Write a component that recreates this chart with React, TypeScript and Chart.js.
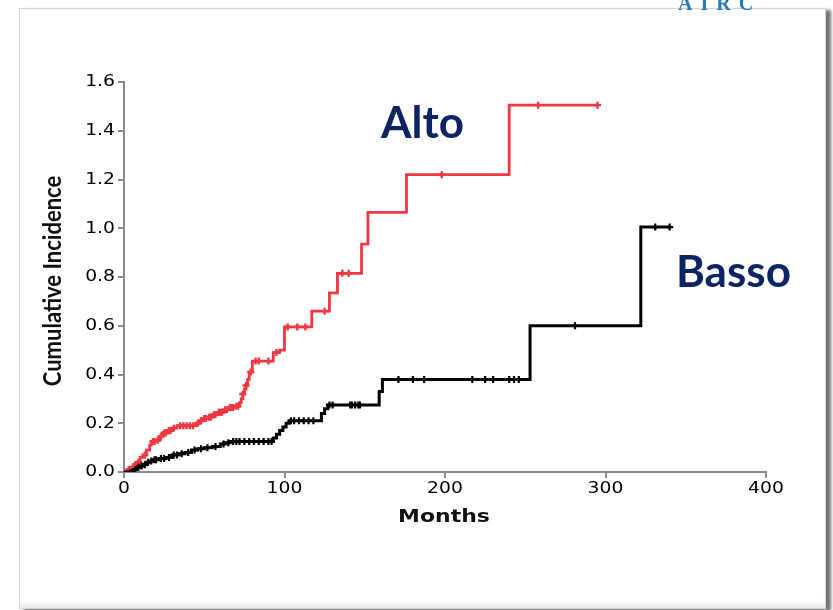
import React, { useEffect, useRef } from "react";
import { Chart, registerables } from "chart.js";

Chart.register(...registerables);

// ---- Data (months, cumulative incidence) ----
const xTicks = [0, 100, 200, 300, 400];
const yTicks = [0, 0.2, 0.4, 0.6, 0.8, 1.0, 1.2, 1.4, 1.6];

// "Alto" group (red)
const altoTimes = [0, 2, 4, 6, 8, 10, 12, 14, 16, 17, 20, 22, 24, 27, 30, 33, 45, 47, 49, 52, 55, 58, 62, 65, 69, 72, 73, 74, 75, 76, 77, 78, 80, 93, 97, 100, 117, 128, 133, 148, 152, 176, 240, 295];
const altoValues = [0, 0.01, 0.02, 0.03, 0.04, 0.06, 0.07, 0.09, 0.11, 0.125, 0.13, 0.145, 0.16, 0.17, 0.18, 0.19, 0.2, 0.21, 0.22, 0.225, 0.235, 0.245, 0.255, 0.265, 0.27, 0.285, 0.3, 0.32, 0.34, 0.355, 0.38, 0.41, 0.455, 0.49, 0.5, 0.595, 0.66, 0.735, 0.815, 0.935, 1.065, 1.22, 1.505, 1.505];
const altoCensored = [3, 7, 9, 13, 18, 19, 21, 23, 25, 26, 28, 29, 31, 35, 37, 39, 41, 43, 46, 48, 50, 51, 53, 54, 56, 57, 59, 60, 61, 63, 64, 66, 67, 68, 70, 71, 74, 76, 79, 82, 84, 90, 95, 102, 108, 113, 125, 136, 140, 198, 258, 295];

// "Basso" group (black)
const bassoTimes = [0, 4, 6, 8, 10, 12, 14, 16, 18, 22, 26, 30, 34, 38, 42, 46, 50, 55, 60, 63, 66, 93, 95, 97, 99, 101, 103, 123, 125, 127, 159, 161, 253, 322, 340];
const bassoValues = [0, 0.005, 0.01, 0.02, 0.025, 0.03, 0.04, 0.045, 0.05, 0.055, 0.06, 0.07, 0.075, 0.08, 0.09, 0.095, 0.1, 0.105, 0.115, 0.12, 0.125, 0.14, 0.155, 0.17, 0.185, 0.2, 0.21, 0.24, 0.26, 0.275, 0.33, 0.38, 0.6, 1.005, 1.005];
const bassoCensored = [7, 9, 11, 13, 15, 17, 19, 20, 23, 25, 28, 31, 33, 36, 40, 44, 48, 52, 57, 62, 65, 68, 70, 72, 75, 78, 81, 84, 87, 90, 92, 104, 106, 109, 112, 115, 118, 128, 130, 141, 142, 144, 146, 147, 171, 180, 187, 217, 225, 230, 240, 243, 246, 281, 331, 340];

const RED = "#f03842";
const BLACK = "#000000";
const NAVY = "#0c2461";
const STRETCH = 1.25;

function stepPoints(times: number[], values: number[]) {
  return times.map((t, i) => ({ x: t, y: values[i] }));
}
function valueAt(times: number[], values: number[], t: number) {
  let v = values[0];
  for (let i = 0; i < times.length; i++) {
    if (times[i] <= t) v = values[i];
  }
  return v;
}
function censorPoints(cens: number[], times: number[], values: number[]) {
  return cens.map((t) => ({ x: t, y: valueAt(times, values, t) }));
}

function stretchedText(ctx: any, text: string, x: number, y: number, sx: number, align: string) {
  ctx.save();
  ctx.translate(x, y);
  ctx.scale(sx, 1);
  ctx.textAlign = align;
  ctx.fillText(text, 0, 0);
  ctx.restore();
}

const textPlugin = {
  id: "annotTexts",
  afterDraw(chart: any) {
    const ctx = chart.ctx;
    const xs = chart.scales.x;
    const ys = chart.scales.y;

    // tick labels (stretched, like the original bitmap)
    ctx.save();
    ctx.fillStyle = "#000";
    ctx.font = "15px 'DejaVu Sans'";
    ctx.textBaseline = "middle";
    yTicks.forEach((v) => {
      stretchedText(ctx, v.toFixed(1), ys.left + 115, ys.getPixelForValue(v) + 0.5, STRETCH, "right");
    });
    xTicks.forEach((v) => {
      stretchedText(ctx, String(v), xs.getPixelForValue(v), 489, STRETCH, "center");
    });
    // x title
    ctx.fillStyle = "#111";
    ctx.font = "bold 18px 'DejaVu Sans'";
    stretchedText(ctx, "Months", 444, 517, 1.22, "center");
    ctx.restore();

    ctx.save();
    ctx.textBaseline = "alphabetic";
    ctx.textAlign = "left";
    ctx.fillStyle = NAVY;
    ctx.font = "bold 44px Lato";
    ctx.fillText("Alto", 381, 138);
    ctx.fillText("Basso", 676, 287);

    // y-axis title
    ctx.fillStyle = "#111";
    ctx.font = "bold 22px Lato";
    ctx.translate(53, 281);
    ctx.rotate(-Math.PI / 2);
    ctx.scale(1, 1.1);
    ctx.textAlign = "center";
    ctx.textBaseline = "middle";
    ctx.fillText("Cumulative Incidence", 0, 0);
    ctx.restore();

    ctx.save();
    ctx.fillStyle = "#2b7bb2";
    ctx.font = "bold 20px 'Liberation Serif'";
    (ctx as any).letterSpacing = "8px";
    ctx.textBaseline = "alphabetic";
    ctx.textAlign = "left";
    ctx.fillText("AIRC", 678, 10);
    ctx.restore();
  },
};

export default function App() {
  const ref = useRef<HTMLCanvasElement | null>(null);

  useEffect(() => {
    if (!ref.current) return;
    const chart = new Chart(ref.current, {
      type: "line",
      data: {
        datasets: [
          {
            label: "Basso",
            data: stepPoints(bassoTimes, bassoValues),
            borderColor: BLACK,
            borderWidth: 3,
            stepped: "before",
            pointRadius: 0,
            fill: false,
          },
          {
            label: "Basso censored",
            type: "scatter",
            data: censorPoints(bassoCensored, bassoTimes, bassoValues),
            borderColor: BLACK,
            backgroundColor: BLACK,
            pointStyle: "cross",
            pointRadius: 3.5,
            borderWidth: 2.2,
            showLine: false,
          } as any,
          {
            label: "Alto",
            data: stepPoints(altoTimes, altoValues),
            borderColor: RED,
            borderWidth: 2.8,
            stepped: "before",
            pointRadius: 0,
            fill: false,
          },
          {
            label: "Alto censored",
            type: "scatter",
            data: censorPoints(altoCensored, altoTimes, altoValues),
            borderColor: RED,
            backgroundColor: RED,
            pointStyle: "cross",
            pointRadius: 3.5,
            borderWidth: 2.4,
            showLine: false,
          } as any,
        ],
      },
      options: {
        responsive: false,
        animation: false,
        events: [],
        layout: { padding: { left: 0, top: 82, right: 67, bottom: 0 } },
        plugins: {
          legend: { display: false },
          tooltip: { enabled: false },
        },
        scales: {
          x: {
            type: "linear",
            min: xTicks[0],
            max: xTicks[xTicks.length - 1],
            afterBuildTicks: (scale: any) => {
              scale.ticks = xTicks.map((v) => ({ value: v }));
            },
            afterFit: (scale: any) => {
              scale.height = 138;
            },
            ticks: { display: false },
            grid: {
              drawOnChartArea: false,
              drawTicks: true,
              tickLength: 6,
              color: "#8a8a8a",
              lineWidth: 2,
            },
            border: { display: true, color: "#8a8a8a", width: 2 },
            title: { display: false },
          },
          y: {
            type: "linear",
            min: yTicks[0],
            max: yTicks[yTicks.length - 1],
            afterBuildTicks: (scale: any) => {
              scale.ticks = yTicks.map((v) => ({ value: v }));
            },
            afterFit: (scale: any) => {
              scale.width = 124;
            },
            ticks: { display: false },
            grid: {
              drawOnChartArea: false,
              drawTicks: true,
              tickLength: 6,
              color: "#8a8a8a",
              lineWidth: 2,
            },
            border: { display: true, color: "#8a8a8a", width: 2 },
            title: { display: false },
          },
        },
      },
      plugins: [textPlugin],
    } as any);
    return () => chart.destroy();
  }, []);

  return (
    <div
      style={{
        position: "fixed",
        left: 0,
        top: 0,
        width: 833,
        height: 610,
        background: "#ffffff",
        overflow: "hidden",
      }}
    >
      <div
        style={{
          position: "absolute",
          left: 19,
          top: 8,
          width: 805,
          height: 599,
          border: "1px solid #d4d4d4",
          background: "#ffffff",
          boxShadow: "5px 2px 3px rgba(0,0,0,0.55), inset 0 -6px 6px -4px rgba(0,0,0,0.12)",
        }}
      />
      <canvas
        ref={ref}
        width={833}
        height={610}
        style={{ position: "absolute", left: 0, top: 0, display: "block" }}
      />
    </div>
  );
}
